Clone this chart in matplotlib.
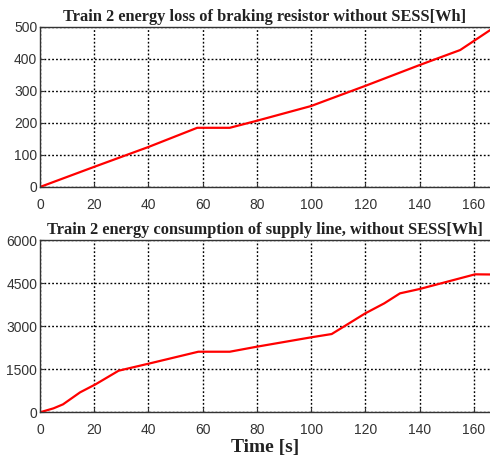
import matplotlib
matplotlib.use("Agg")
import matplotlib.pyplot as plt

t_top = [0, 20, 40, 58, 70, 80, 100, 106, 120, 140, 155, 166]
e_top = [0, 63, 125, 185, 185, 207, 253, 272, 316, 381, 428, 490]

t_bot = [0, 5, 8.5, 14.8, 20.5, 29, 40.6, 58.4, 70, 80, 100, 107.6, 112, 120, 127, 132.8, 140, 160.5, 166]
e_bot = [0, 139, 278, 696, 975, 1449, 1706, 2110, 2110, 2285, 2611, 2726, 2981, 3447, 3795, 4143, 4293, 4805, 4800]

xticks = [0, 20, 40, 60, 80, 100, 120, 140, 160]
yticks_top = [0, 100, 200, 300, 400, 500]
yticks_bot = [0, 1500, 3000, 4500, 6000]

title_top = "Train 2 energy loss of braking resistor without SESS[Wh]"
title_bot = "Train 2 energy consumption of supply line, without SESS[Wh]"
xlabel = "Time [s]"

tick_font = "Liberation Sans"

fig = plt.figure(figsize=(4.9, 4.59), dpi=100)
ax1 = fig.add_axes([0.0816, 0.5926, 0.9184, 0.3486])
ax2 = fig.add_axes([0.0816, 0.1017, 0.9184, 0.3754])

for ax, t, e, yt, title in [(ax1, t_top, e_top, yticks_top, title_top),
                            (ax2, t_bot, e_bot, yticks_bot, title_bot)]:
    ax.plot(t, e, color="red", linewidth=1.6)
    ax.set_xlim(0, 166)
    ax.set_ylim(yt[0], yt[-1])
    ax.set_xticks(xticks)
    ax.set_yticks(yt)
    ax.grid(True, color="black", linestyle=(0, (1.3, 1.5)), linewidth=1.0)
    ax.spines["right"].set_visible(False)
    for s in ["left", "bottom", "top"]:
        ax.spines[s].set_color("#333333")
        ax.spines[s].set_linewidth(1.0)
    ax.tick_params(axis="both", direction="in", length=3, colors="#333333", labelsize=10)
    ax.tick_params(axis="x", pad=8)
    ax.tick_params(axis="y", pad=2)
    for lab in ax.get_xticklabels() + ax.get_yticklabels():
        lab.set_fontfamily(tick_font)
        lab.set_color("#333333")
    ax.set_title(title, fontfamily="Liberation Serif", fontweight="bold",
                 fontsize=11.8, color="#222222", pad=4)

ax2.set_xlabel(xlabel, fontfamily="Liberation Serif", fontweight="bold",
               fontsize=14, color="#222222", labelpad=1)

fig.savefig("out.png", dpi=100)
